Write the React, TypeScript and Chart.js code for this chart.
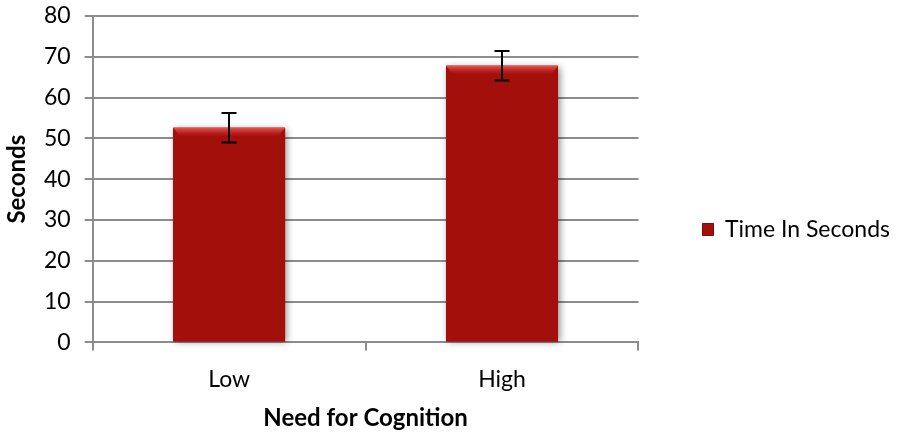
import React, { useEffect, useRef } from "react";
import { Chart, registerables } from "chart.js";

Chart.register(...registerables);

const categories = ["Low", "High"];
const seriesName = "Time In Seconds";
const values = [52.6, 67.8];
const errors = [3.6, 3.6];
const yTickValues = [0, 10, 20, 30, 40, 50, 60, 70, 80];
const xTitle = "Need for Cognition";
const yTitle = "Seconds";

const FONT = "Lato";
const BAR_MAIN = "#a30f0b";

const barShadowPlugin = {
  id: "barShadow",
  beforeDatasetsDraw(chart: any) {
    const ctx = chart.ctx;
    const meta = chart.getDatasetMeta(0);
    ctx.save();
    meta.data.forEach((bar: any) => {
      const w = bar.width;
      ctx.shadowColor = "rgba(0,0,0,0.45)";
      ctx.shadowBlur = 7;
      ctx.shadowOffsetX = 2;
      ctx.shadowOffsetY = 1;
      ctx.fillStyle = "#7a0a08";
      ctx.fillRect(bar.x - w / 2, bar.y, w, bar.base - bar.y);
    });
    ctx.restore();
  },
  afterDatasetsDraw(chart: any) {
    const ctx = chart.ctx;
    const meta = chart.getDatasetMeta(0);
    const yScale = chart.scales.y;
    ctx.save();
    meta.data.forEach((bar: any) => {
      const w = bar.width;
      const g = ctx.createLinearGradient(0, bar.y, 0, bar.y + 9);
      g.addColorStop(0, "rgba(235,90,90,0.95)");
      g.addColorStop(1, "rgba(200,40,40,0)");
      ctx.fillStyle = g;
      ctx.beginPath();
      ctx.moveTo(bar.x - w / 2, bar.y);
      ctx.lineTo(bar.x + w / 2, bar.y);
      ctx.lineTo(bar.x + w / 2 - 7, bar.y + 9);
      ctx.lineTo(bar.x - w / 2 + 7, bar.y + 9);
      ctx.closePath();
      ctx.fill();
    });
    ctx.strokeStyle = "#000000";
    ctx.lineWidth = 2;
    meta.data.forEach((bar: any, i: number) => {
      const top = yScale.getPixelForValue(values[i] + errors[i]);
      const bot = yScale.getPixelForValue(values[i] - errors[i]);
      const x = Math.round(bar.x);
      ctx.beginPath();
      ctx.moveTo(x, top);
      ctx.lineTo(x, bot);
      ctx.moveTo(x - 7.5, top);
      ctx.lineTo(x + 7.5, top);
      ctx.moveTo(x - 7.5, bot);
      ctx.lineTo(x + 7.5, bot);
      ctx.stroke();
    });
    ctx.restore();
  },
};

function barFill(context: any) {
  const el = context.element;
  if (!el || el.width === undefined) return BAR_MAIN;
  const x0 = el.x - el.width / 2;
  const x1 = el.x + el.width / 2;
  if (!isFinite(x0) || !isFinite(x1) || x1 <= x0) return BAR_MAIN;
  const g = context.chart.ctx.createLinearGradient(x0, 0, x1, 0);
  g.addColorStop(0, "#6a0806");
  g.addColorStop(0.06, "#a30f0b");
  g.addColorStop(0.94, "#a30f0b");
  g.addColorStop(1, "#5e0705");
  return g;
}

export default function App() {
  const ref = useRef<HTMLCanvasElement | null>(null);

  useEffect(() => {
    if (!ref.current) return;
    const chart = new Chart(ref.current, {
      type: "bar",
      data: {
        labels: categories,
        datasets: [
          {
            label: seriesName,
            data: values,
            backgroundColor: barFill,
            borderWidth: 0,
            barPercentage: 0.82,
            categoryPercentage: 0.5,
          },
        ],
      },
      options: {
        animation: false,
        responsive: false,
        maintainAspectRatio: false,
        layout: { padding: { top: 0, right: 2, bottom: 0, left: 0 } },
        plugins: {
          tooltip: { enabled: false },
          legend: {
            position: "right",
            maxWidth: 420,
            title: {
              display: true,
              text: " ",
              font: { family: FONT, size: 10 },
              padding: 6,
            },
            labels: {
              font: { family: FONT, size: 23 },
              color: "#000000",
              boxWidth: 11,
              boxHeight: 12,
              padding: 64,
              generateLabels: () => [
                {
                  text: seriesName,
                  fillStyle: BAR_MAIN,
                  strokeStyle: "#7a0a08",
                  lineWidth: 1,
                  hidden: false,
                  datasetIndex: 0,
                  fontColor: "#000000",
                },
              ],
            },
          },
        },
        scales: {
          x: {
            grid: {
              display: true,
              drawOnChartArea: false,
              drawTicks: true,
              tickLength: 8,
              color: "#8c8c8c",
              lineWidth: 2,
              offset: true,
            },
            border: { display: true, color: "#8c8c8c", width: 2 },
            ticks: {
              font: { family: FONT, size: 23 },
              color: "#000000",
              padding: 15,
            },
            title: {
              display: true,
              text: xTitle,
              font: { family: FONT, size: 24, weight: "bold", lineHeight: 1 },
              color: "#000000",
              padding: { top: -2, bottom: 5 },
            },
          },
          y: {
            min: 0,
            max: 80,
            afterBuildTicks: (scale: any) => {
              scale.ticks = yTickValues.map((v) => ({ value: v }));
            },
            afterFit: (scale: any) => {
              scale.paddingTop = 16;
              scale.paddingBottom = 0;
            },
            grid: {
              color: "#8c8c8c",
              lineWidth: 2,
              tickLength: 8,
              drawTicks: true,
            },
            border: { display: true, color: "#8c8c8c", width: 2 },
            ticks: {
              font: { family: FONT, size: 23 },
              color: "#000000",
              padding: 14,
            },
            title: {
              display: true,
              text: yTitle,
              font: { family: FONT, size: 24, weight: "bold", lineHeight: 1 },
              color: "#000000",
              padding: { top: 5, bottom: 1 },
            },
          },
        },
      },
      plugins: [barShadowPlugin],
    } as any);
    return () => chart.destroy();
  }, []);

  return (
    <div style={{ position: "absolute", left: 0, top: 0, width: 902, height: 435, background: "#ffffff" }}>
      <canvas ref={ref} width={902} height={435} style={{ width: 902, height: 435 }} />
    </div>
  );
}
